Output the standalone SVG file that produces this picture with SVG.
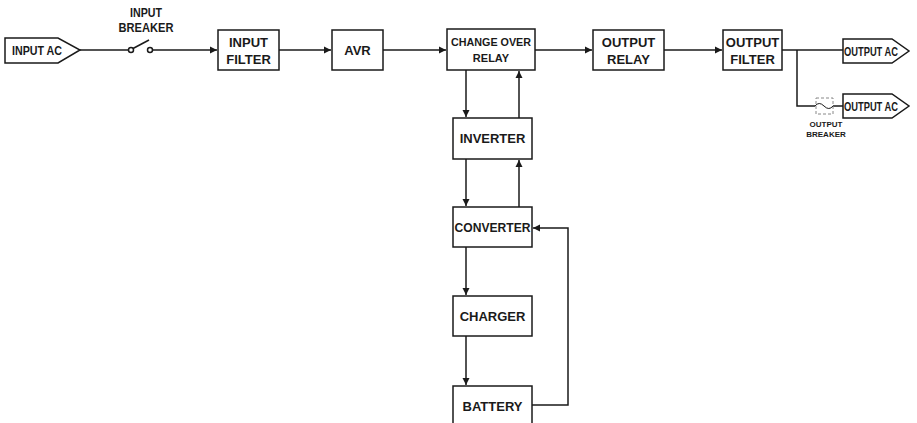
<svg xmlns="http://www.w3.org/2000/svg" width="917" height="423" viewBox="0 0 917 423">
<defs>
<marker id="ah" markerWidth="8" markerHeight="8" refX="7" refY="4" orient="auto" markerUnits="userSpaceOnUse">
<path d="M0,0.5 L7,4 L0,7.5 Z" fill="#1a1a1a"/>
</marker>
<style>
.box{fill:#fff;stroke:#1a1a1a;stroke-width:1.5}
.ln{fill:none;stroke:#1a1a1a;stroke-width:1.5}
.t{font-family:"Liberation Sans",Arial,sans-serif;font-weight:bold;font-size:13px;fill:#1a1a1a;text-anchor:middle}
.s{font-size:11px}
.xs{font-size:8px}
.o{font-size:12px}
</style>
</defs>
<rect width="917" height="423" fill="#fff"/>
<g id="connectors">
<path class="ln" d="M80,50 H128"/>
<path class="ln" d="M153,50 H217" marker-end="url(#ah)"/>
<path class="ln" d="M279,50 H331" marker-end="url(#ah)"/>
<path class="ln" d="M383,50 H446" marker-end="url(#ah)"/>
<path class="ln" d="M535,50 H592" marker-end="url(#ah)"/>
<path class="ln" d="M664,50 H722" marker-end="url(#ah)"/>
<path class="ln" d="M782,50 H843"/>
<path class="ln" d="M797,50 V106 H815"/>
<path class="ln" d="M833,106 H843"/>
<path class="ln" d="M466,70 V117" marker-end="url(#ah)"/>
<path class="ln" d="M519,118 V71" marker-end="url(#ah)"/>
<path class="ln" d="M466,159 V206" marker-end="url(#ah)"/>
<path class="ln" d="M519,207 V160" marker-end="url(#ah)"/>
<path class="ln" d="M466,247 V295" marker-end="url(#ah)"/>
<path class="ln" d="M466,336 V385" marker-end="url(#ah)"/>
<path class="ln" d="M532,405 H568 V228 H533" marker-end="url(#ah)"/>
</g>
<g id="input-ac">
<path class="box" d="M5,38 H58 L80,50 L58,63 H5 Z"/>
<text class="t" x="37" y="55" textLength="50" lengthAdjust="spacingAndGlyphs">INPUT AC</text>
</g>
<g id="input-breaker">
<circle class="ln" cx="131" cy="50" r="2.5" fill="#fff"/>
<circle class="ln" cx="150" cy="50" r="2.5" fill="#fff"/>
<path class="ln" d="M133,48.5 L149,40"/>
<text class="t" x="146" y="17" textLength="32" lengthAdjust="spacingAndGlyphs">INPUT</text>
<text class="t" x="146" y="32" textLength="55" lengthAdjust="spacingAndGlyphs">BREAKER</text>
</g>
<g id="input-filter">
<rect class="box" x="218" y="30" width="61" height="40"/>
<text class="t" x="248.5" y="47">INPUT</text>
<text class="t" x="248.5" y="64">FILTER</text>
</g>
<g id="avr">
<rect class="box" x="332" y="30" width="51" height="40"/>
<text class="t" x="357.5" y="55">AVR</text>
</g>
<g id="change-over-relay">
<rect class="box" x="447" y="29" width="88" height="41"/>
<text class="t s" x="491" y="46" textLength="80" lengthAdjust="spacingAndGlyphs">CHANGE OVER</text>
<text class="t s" x="491" y="62">RELAY</text>
</g>
<g id="output-relay">
<rect class="box" x="593" y="30" width="71" height="40"/>
<text class="t" x="628.5" y="47">OUTPUT</text>
<text class="t" x="628.5" y="64">RELAY</text>
</g>
<g id="output-filter">
<rect class="box" x="723" y="30" width="59" height="40"/>
<text class="t" x="752.5" y="47">OUTPUT</text>
<text class="t" x="752.5" y="64">FILTER</text>
</g>
<g id="output-ac-1">
<path class="box" d="M843,39 H892 L909,51 L892,63 H843 Z"/>
<text class="t o" x="871" y="55.5" textLength="54" lengthAdjust="spacingAndGlyphs">OUTPUT AC</text>
</g>
<g id="output-ac-2">
<path class="box" d="M843,94 H892 L909,106 L892,118 H843 Z"/>
<text class="t o" x="871" y="110.5" textLength="54" lengthAdjust="spacingAndGlyphs">OUTPUT AC</text>
</g>
<g id="output-breaker">
<rect x="816" y="98" width="17" height="16" fill="none" stroke="#888" stroke-width="1" stroke-dasharray="3,2"/>
<path d="M815,106 Q819,101 824,106 T833,106" fill="none" stroke="#1a1a1a" stroke-width="1"/>
<text class="t xs" x="826" y="127">OUTPUT</text>
<text class="t xs" x="826" y="137">BREAKER</text>
</g>
<g id="inverter">
<rect class="box" x="453" y="118" width="79" height="41"/>
<text class="t" x="492.5" y="143">INVERTER</text>
</g>
<g id="converter">
<rect class="box" x="453" y="207" width="79" height="40"/>
<text class="t" x="492.5" y="232" textLength="76" lengthAdjust="spacingAndGlyphs">CONVERTER</text>
</g>
<g id="charger">
<rect class="box" x="453" y="296" width="79" height="40"/>
<text class="t" x="492.5" y="321">CHARGER</text>
</g>
<g id="battery">
<rect class="box" x="453" y="386" width="79" height="40"/>
<text class="t" x="492.5" y="411">BATTERY</text>
</g>
</svg>
